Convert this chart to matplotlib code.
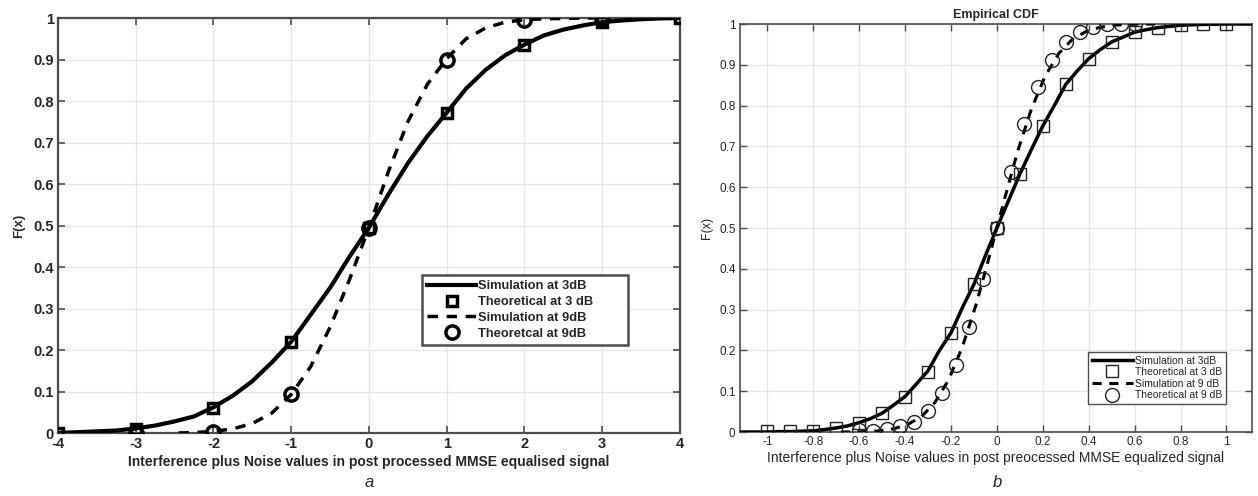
import numpy as np
import matplotlib
matplotlib.use("Agg")
import matplotlib.pyplot as plt
from matplotlib.ticker import FixedLocator, FormatStrFormatter

plt.rcParams['font.family'] = ['Liberation Sans', 'DejaVu Sans']
plt.rcParams['axes.unicode_minus'] = False

# ---- panel a data ----
a_sim3_x = [-4, -3.75, -3.5, -3.25, -3, -2.75, -2.5, -2.25, -2, -1.75, -1.5, -1.25, -1, -0.75, -0.5, -0.25,
            0, 0.25, 0.5, 0.75, 1, 1.25, 1.5, 1.75, 2, 2.25, 2.5, 2.75, 3, 3.25, 3.5, 3.75, 4]
a_sim3_y = [0.0, 0.002, 0.004, 0.006, 0.011, 0.018, 0.028, 0.040, 0.062, 0.090, 0.125, 0.170, 0.220,
            0.285, 0.350, 0.425, 0.495, 0.575, 0.650, 0.715, 0.772, 0.830, 0.875, 0.910, 0.936, 0.958,
            0.972, 0.982, 0.990, 0.994, 0.997, 0.999, 1.0]
a_theo3_x = [-4, -3, -2, -1, 0, 1, 2, 3, 4]
a_theo3_y = [0.0, 0.01, 0.06, 0.22, 0.495, 0.77, 0.935, 0.99, 1.0]
a_sim9_x = [-2.45, -2.25, -2, -1.75, -1.5, -1.25, -1, -0.75, -0.5, -0.25, 0, 0.25, 0.5, 0.75, 1,
            1.25, 1.5, 1.75, 2, 2.25, 2.5, 2.75, 3]
a_sim9_y = [0.0, 0.001, 0.004, 0.010, 0.023, 0.048, 0.093, 0.160, 0.255, 0.370, 0.495, 0.630, 0.750,
            0.840, 0.902, 0.950, 0.976, 0.990, 0.996, 0.998, 0.999, 1.0, 1.0]
a_theo9_x = [-3, -2, -1, 0, 1, 2, 3]
a_theo9_y = [0.0, 0.003, 0.093, 0.495, 0.90, 0.995, 1.0]

# ---- panel b data ----
b_sim3_x = [-1.12, -1.0, -0.95, -0.9, -0.85, -0.8, -0.75, -0.7, -0.65, -0.6, -0.55, -0.5, -0.45, -0.4,
            -0.35, -0.3, -0.25, -0.2, -0.15, -0.1, -0.05, 0.0, 0.05, 0.1, 0.15, 0.2, 0.25, 0.3, 0.35,
            0.4, 0.45, 0.5, 0.55, 0.6, 0.65, 0.7, 0.75, 0.8, 0.85, 0.9, 0.95, 1.0, 1.11]
b_sim3_y = [0.0, 0.0, 0.001, 0.001, 0.002, 0.003, 0.006, 0.010, 0.015, 0.023, 0.033, 0.046, 0.066,
            0.087, 0.118, 0.150, 0.200, 0.243, 0.305, 0.362, 0.432, 0.500, 0.566, 0.632, 0.692, 0.750,
            0.800, 0.852, 0.885, 0.915, 0.937, 0.956, 0.968, 0.980, 0.986, 0.991, 0.994, 0.997, 0.998,
            0.999, 0.9995, 1.0, 1.0]
b_theo3_x = [-1.0, -0.9, -0.8, -0.7, -0.6, -0.5, -0.4, -0.3, -0.2, -0.1, 0.0, 0.1, 0.2, 0.3, 0.4,
             0.5, 0.6, 0.7, 0.8, 0.9, 1.0]
b_theo3_y = [0.002, 0.002, 0.003, 0.011, 0.023, 0.046, 0.087, 0.148, 0.243, 0.362, 0.500, 0.632, 0.750,
             0.852, 0.915, 0.957, 0.980, 0.990, 0.997, 0.999, 1.0]
b_sim9_x = [-0.68, -0.63, -0.57, -0.51, -0.45, -0.39, -0.33, -0.27, -0.21, -0.15, -0.09, -0.03, 0.03,
            0.09, 0.15, 0.21, 0.27, 0.33, 0.39, 0.45, 0.51, 0.57, 0.63, 0.7]
b_sim9_y = [0.0, 0.0003, 0.001, 0.003, 0.008, 0.018, 0.037, 0.072, 0.128, 0.209, 0.313, 0.436, 0.564,
            0.687, 0.791, 0.872, 0.928, 0.963, 0.982, 0.992, 0.997, 0.999, 1.0, 1.0]
b_theo9_x = [-0.6, -0.54, -0.48, -0.42, -0.36, -0.3, -0.24, -0.18, -0.12, -0.06, 0.0, 0.06, 0.12,
             0.18, 0.24, 0.3, 0.36, 0.42, 0.48, 0.54, 0.6]
b_theo9_y = [0.005, 0.003, 0.007, 0.015, 0.025, 0.052, 0.096, 0.164, 0.258, 0.375, 0.500, 0.638, 0.754,
             0.846, 0.912, 0.957, 0.980, 0.993, 1.0, 1.0, 1.0]

yticks = [0, 0.1, 0.2, 0.3, 0.4, 0.5, 0.6, 0.7, 0.8, 0.9, 1]
a_xticks = [-4, -3, -2, -1, 0, 1, 2, 3, 4]
b_xticks = [-1, -0.8, -0.6, -0.4, -0.2, 0, 0.2, 0.4, 0.6, 0.8, 1]

txt = '#262626'
spine_c = '#4d4d4d'
grid_c = '#e6e6e6'

fig = plt.figure(figsize=(12.58, 4.96), dpi=100)

# ---------------- panel a ----------------
ax1 = fig.add_axes([0.0461, 0.127, 0.4944, 0.8367])
ax1.plot(a_sim3_x, a_sim3_y, color='black', lw=3.0, label='Simulation at 3dB', zorder=3)
ax1.plot(a_theo3_x, a_theo3_y, 's', ms=7.5, mfc='none', mec='black', mew=2.5,
         label='Theoretical at 3 dB', zorder=4)
ax1.plot(a_sim9_x, a_sim9_y, '--', color='black', lw=2.5, dashes=(3, 2.5),
         label='Simulation at 9dB', zorder=3)
ax1.plot(a_theo9_x, a_theo9_y, 'o', ms=9.5, mfc='none', mec='black', mew=2.5,
         label='Theoretcal at 9dB', zorder=4)
ax1.set_xlim(-4, 4)
ax1.set_ylim(0, 1)
ax1.xaxis.set_major_locator(FixedLocator(a_xticks))
ax1.yaxis.set_major_locator(FixedLocator(yticks))
ax1.yaxis.set_major_formatter(FormatStrFormatter('%g'))
ax1.grid(True, color=grid_c, lw=1.0)
ax1.set_axisbelow(True)
for s in ax1.spines.values():
    s.set_color(spine_c)
    s.set_linewidth(1.6)
ax1.tick_params(direction='in', length=5, width=1.2, color=spine_c, top=True, right=True,
                labelsize=10.5, labelcolor=txt, pad=3)
for lab in ax1.get_xticklabels() + ax1.get_yticklabels():
    lab.set_fontweight('bold')
ax1.set_xlabel('Interference plus Noise values in post processed MMSE equalised signal',
               fontsize=10, fontweight='bold', color=txt, labelpad=3)
ax1.set_ylabel('F(x)', fontsize=9.5, fontweight='bold', color=txt, labelpad=6)
leg1 = ax1.legend(loc='lower left', bbox_to_anchor=(0.585, 0.212, 0.331, 0.169), mode='expand',
                  prop={'weight': 'bold', 'size': 9.3}, handlelength=3.8, labelspacing=0.3,
                  borderpad=0.4, handletextpad=0.15, fancybox=False, framealpha=1,
                  edgecolor=spine_c, borderaxespad=0)
leg1.get_frame().set_linewidth(1.8)
for t in leg1.get_texts():
    t.set_color(txt)

# ---------------- panel b ----------------
ax2 = fig.add_axes([0.588, 0.129, 0.407, 0.8226])
ax2.plot(b_sim3_x, b_sim3_y, color='black', lw=2.5, label='Simulation at 3dB', zorder=3)
ax2.plot(b_theo3_x, b_theo3_y, 's', ms=8, mfc='none', mec='#222222', mew=1.0,
         label='Theoretical at 3 dB', zorder=4)
ax2.plot(b_sim9_x, b_sim9_y, '--', color='black', lw=2.2, dashes=(3, 2.5),
         label='Simulation at 9 dB', zorder=3)
ax2.plot(b_theo9_x, b_theo9_y, 'o', ms=10, mfc='none', mec='#222222', mew=1.0,
         label='Theoretical at 9 dB', zorder=4)
ax2.set_xlim(-1.12, 1.11)
ax2.set_ylim(0, 1)
ax2.xaxis.set_major_locator(FixedLocator(b_xticks))
ax2.yaxis.set_major_locator(FixedLocator(yticks))
ax2.xaxis.set_major_formatter(FormatStrFormatter('%g'))
ax2.yaxis.set_major_formatter(FormatStrFormatter('%g'))
ax2.grid(True, color=grid_c, lw=1.0)
ax2.set_axisbelow(True)
for s in ax2.spines.values():
    s.set_color(spine_c)
    s.set_linewidth(1.2)
ax2.tick_params(direction='in', length=5, width=1.0, color=spine_c, top=True, right=True,
                labelsize=8.5, labelcolor=txt, pad=3)
ax2.set_xlabel('Interference plus Noise values in post preocessed MMSE equalized signal',
               fontsize=10, color=txt, labelpad=2)
ax2.set_ylabel('F(x)', fontsize=9, color=txt, labelpad=4)
ax2.set_title('Empirical CDF', fontsize=9, fontweight='bold', color=txt, pad=4)
leg2 = ax2.legend(loc='lower left', bbox_to_anchor=(0.68, 0.069), fontsize=7.5,
                  handlelength=4.0, labelspacing=0.15, borderpad=0.35, handletextpad=0.2,
                  fancybox=False, framealpha=1, edgecolor=spine_c, borderaxespad=0)
leg2.get_frame().set_linewidth(1.0)
for t in leg2.get_texts():
    t.set_color(txt)

# panel captions
fig.text(0.2933, 0.018, 'a', fontsize=12, style='italic', color=txt, ha='center')
fig.text(0.7925, 0.018, 'b', fontsize=12, style='italic', color=txt, ha='center')

fig.savefig('out.png', dpi=100)
